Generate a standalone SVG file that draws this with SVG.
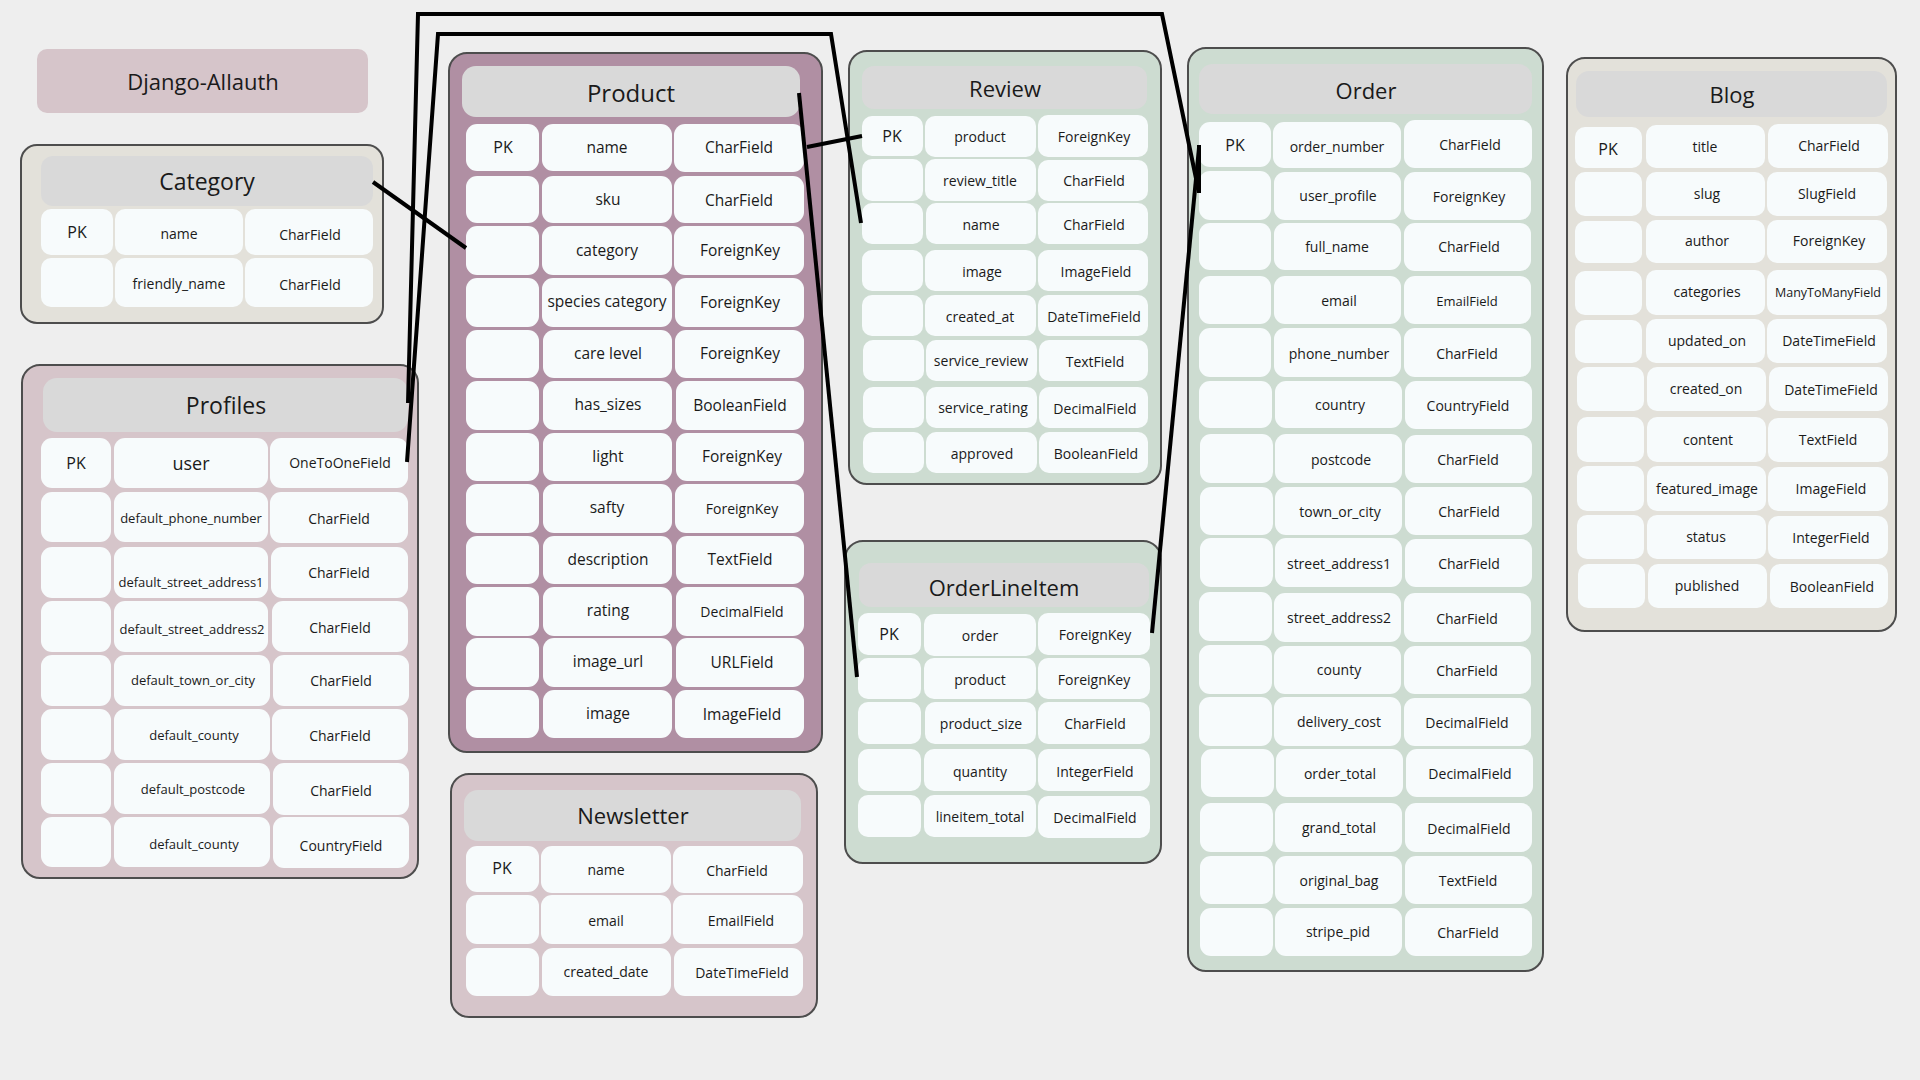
<svg xmlns="http://www.w3.org/2000/svg" width="1920" height="1080" viewBox="0 0 1920 1080">
<defs>
<style>
.box{stroke:#4d4d4d;stroke-width:2}
.pink{fill:#d6c5ca}
.mauve{fill:#b08fa3}
.sage{fill:#cddcd1}
.beige{fill:#e3e1da}
.hdr{fill:#d9d9d9}
.c{fill:#f7fbfc}
text{font-family:"Open Sans","Liberation Sans",sans-serif;fill:#1a1a1a;text-anchor:middle;dominant-baseline:central}
.h{font-size:22px}
.pk{font-size:16px}
.f{font-size:14px}
.s{font-size:13px}
.m{font-size:15.5px}
.conn{fill:none;stroke:#000;stroke-width:4;stroke-linejoin:miter}
</style>
</defs>
<rect x="0" y="0" width="1920" height="1080" fill="#eeeeee"/>

<g id="django-allauth">
<rect x="37" y="49" width="331" height="64" rx="10" class="pink"/>
<text x="203" y="81" class="h">Django-Allauth</text>
</g>

<g id="category">
<rect x="21" y="145" width="362" height="178" rx="16" class="box beige"/>
<rect x="41" y="156" width="332" height="50" rx="12" class="hdr"/>
<text x="207" y="181" style="font-size:23px">Category</text>
<rect x="41" y="209" width="72" height="46" rx="10" class="c"/>
<rect x="115" y="209" width="128" height="46" rx="10" class="c"/>
<rect x="245" y="209" width="128" height="46" rx="10" class="c"/>
<rect x="41" y="258" width="72" height="49" rx="10" class="c"/>
<rect x="115" y="258" width="128" height="49" rx="10" class="c"/>
<rect x="245" y="258" width="128" height="49" rx="10" class="c"/>
<text x="77" y="232" class="pk">PK</text>
<text x="179" y="233" class="f">name</text>
<text x="310" y="234" class="f">CharField</text>
<text x="179" y="283" class="f">friendly_name</text>
<text x="310" y="284" class="f">CharField</text>
</g>

<g id="profiles">
<rect x="22" y="365" width="396" height="513" rx="18" class="box pink"/>
<rect x="43" y="378" width="365" height="54" rx="14" class="hdr"/>
<text x="226" y="405" style="font-size:23px">Profiles</text>
<rect x="41" y="438" width="70" height="50" rx="11" class="c"/><rect x="114" y="438" width="154" height="50" rx="11" class="c"/><rect x="270" y="438" width="138" height="50" rx="11" class="c"/>
<rect x="41" y="492" width="70" height="50" rx="11" class="c"/><rect x="114" y="492" width="154" height="50" rx="11" class="c"/><rect x="270" y="492" width="138" height="51" rx="11" class="c"/>
<rect x="41" y="547" width="70" height="51" rx="11" class="c"/><rect x="114" y="547" width="154" height="51" rx="11" class="c"/><rect x="271" y="547" width="137" height="51" rx="11" class="c"/>
<rect x="41" y="601" width="70" height="51" rx="11" class="c"/><rect x="114" y="601" width="154" height="51" rx="11" class="c"/><rect x="272" y="601" width="136" height="51" rx="11" class="c"/>
<rect x="41" y="655" width="70" height="51" rx="11" class="c"/><rect x="114" y="655" width="156" height="51" rx="11" class="c"/><rect x="273" y="655" width="136" height="51" rx="11" class="c"/>
<rect x="41" y="709" width="70" height="51" rx="11" class="c"/><rect x="114" y="709" width="156" height="51" rx="11" class="c"/><rect x="272" y="709" width="136" height="51" rx="11" class="c"/>
<rect x="41" y="763" width="70" height="51" rx="11" class="c"/><rect x="114" y="763" width="156" height="51" rx="11" class="c"/><rect x="273" y="763" width="136" height="52" rx="11" class="c"/>
<rect x="41" y="817" width="70" height="50" rx="11" class="c"/><rect x="114" y="817" width="156" height="50" rx="11" class="c"/><rect x="273" y="817" width="136" height="51" rx="11" class="c"/>
<text x="76" y="463" class="pk">PK</text>
<text x="191" y="463" style="font-size:18px">user</text>
<text x="340" y="462" class="f">OneToOneField</text>
<text x="191" y="518" class="s">default_phone_number</text>
<text x="339" y="518" class="f">CharField</text>
<text x="191" y="582" class="s">default_street_address1</text>
<text x="339" y="572" class="f">CharField</text>
<text x="192" y="629" class="s">default_street_address2</text>
<text x="340" y="627" class="f">CharField</text>
<text x="193" y="680" class="s">default_town_or_city</text>
<text x="341" y="680" class="f">CharField</text>
<text x="194" y="735" class="s">default_county</text>
<text x="340" y="735" class="f">CharField</text>
<text x="193" y="789" class="s">default_postcode</text>
<text x="341" y="790" class="f">CharField</text>
<text x="194" y="844" class="s">default_county</text>
<text x="341" y="845" class="f">CountryField</text>
</g>

<g id="product">
<rect x="449" y="53" width="373" height="699" rx="18" class="box mauve"/>
<rect x="462" y="66" width="338" height="51" rx="14" class="hdr"/>
<text x="631" y="92" style="font-size:24px">Product</text>
<rect x="466" y="124" width="73" height="47" rx="11" class="c"/><rect x="542" y="124" width="130" height="47" rx="11" class="c"/><rect x="674" y="124" width="130" height="48" rx="11" class="c"/>
<rect x="466" y="176" width="73" height="47" rx="11" class="c"/><rect x="542" y="176" width="130" height="47" rx="11" class="c"/><rect x="674" y="176" width="130" height="47" rx="11" class="c"/>
<rect x="466" y="226" width="73" height="49" rx="11" class="c"/><rect x="542" y="226" width="130" height="49" rx="11" class="c"/><rect x="674" y="226" width="130" height="49" rx="11" class="c"/>
<rect x="466" y="278" width="73" height="49" rx="11" class="c"/><rect x="542" y="278" width="130" height="49" rx="11" class="c"/><rect x="675" y="278" width="129" height="49" rx="11" class="c"/>
<rect x="466" y="330" width="73" height="48" rx="11" class="c"/><rect x="543" y="330" width="129" height="48" rx="11" class="c"/><rect x="675" y="330" width="129" height="48" rx="11" class="c"/>
<rect x="466" y="381" width="73" height="49" rx="11" class="c"/><rect x="543" y="381" width="129" height="49" rx="11" class="c"/><rect x="676" y="381" width="128" height="49" rx="11" class="c"/>
<rect x="466" y="433" width="73" height="48" rx="11" class="c"/><rect x="543" y="433" width="129" height="48" rx="11" class="c"/><rect x="676" y="433" width="128" height="48" rx="11" class="c"/>
<rect x="466" y="484" width="73" height="49" rx="11" class="c"/><rect x="543" y="484" width="129" height="49" rx="11" class="c"/><rect x="675" y="484" width="129" height="49" rx="11" class="c"/>
<rect x="466" y="536" width="73" height="48" rx="11" class="c"/><rect x="543" y="536" width="129" height="48" rx="11" class="c"/><rect x="676" y="536" width="128" height="48" rx="11" class="c"/>
<rect x="466" y="587" width="73" height="49" rx="11" class="c"/><rect x="543" y="587" width="129" height="49" rx="11" class="c"/><rect x="676" y="587" width="128" height="49" rx="11" class="c"/>
<rect x="466" y="638" width="73" height="49" rx="11" class="c"/><rect x="543" y="638" width="129" height="49" rx="11" class="c"/><rect x="676" y="638" width="128" height="49" rx="11" class="c"/>
<rect x="466" y="690" width="73" height="48" rx="11" class="c"/><rect x="543" y="690" width="129" height="48" rx="11" class="c"/><rect x="675" y="690" width="129" height="48" rx="11" class="c"/>
<text x="503" y="147" class="pk">PK</text>
<text x="607" y="147" class="m">name</text><text x="739" y="147" class="m">CharField</text>
<text x="608" y="199" class="m">sku</text><text x="739" y="200" class="m">CharField</text>
<text x="607" y="250" class="m">category</text><text x="740" y="250" class="m">ForeignKey</text>
<text x="607" y="301" class="m">species category</text><text x="740" y="302" class="m">ForeignKey</text>
<text x="608" y="353" class="m">care level</text><text x="740" y="353" class="m">ForeignKey</text>
<text x="608" y="404" class="m">has_sizes</text><text x="740" y="405" class="m">BooleanField</text>
<text x="608" y="456" class="m">light</text><text x="742" y="456" class="m">ForeignKey</text>
<text x="607" y="507" class="m">safty</text><text x="742" y="508" class="f">ForeignKey</text>
<text x="608" y="559" class="m">description</text><text x="740" y="559" class="m">TextField</text>
<text x="608" y="610" class="m">rating</text><text x="742" y="611" class="f">DecimalField</text>
<text x="608" y="661" class="m">image_url</text><text x="742" y="662" class="m">URLField</text>
<text x="608" y="713" class="m">image</text><text x="742" y="714" class="m">ImageField</text>
</g>

<g id="newsletter">
<rect x="451" y="774" width="366" height="243" rx="18" class="box pink"/>
<rect x="464" y="790" width="337" height="51" rx="14" class="hdr"/>
<text x="633" y="815" class="h">Newsletter</text>
<rect x="466" y="846" width="73" height="46" rx="11" class="c"/><rect x="541" y="846" width="130" height="47" rx="11" class="c"/><rect x="673" y="846" width="130" height="47" rx="11" class="c"/>
<rect x="466" y="895" width="73" height="49" rx="11" class="c"/><rect x="541" y="895" width="130" height="49" rx="11" class="c"/><rect x="673" y="895" width="130" height="49" rx="11" class="c"/>
<rect x="466" y="948" width="73" height="48" rx="11" class="c"/><rect x="542" y="948" width="129" height="48" rx="11" class="c"/><rect x="674" y="948" width="129" height="48" rx="11" class="c"/>
<text x="502" y="868" class="pk">PK</text>
<text x="606" y="869" class="f">name</text><text x="737" y="870" class="f">CharField</text>
<text x="606" y="920" class="f">email</text><text x="741" y="920" class="f">EmailField</text>
<text x="606" y="971" class="f">created_date</text><text x="742" y="972" class="f">DateTimeField</text>
</g>

<g id="review">
<rect x="849" y="51" width="312" height="433" rx="18" class="box sage"/>
<rect x="862" y="66" width="285" height="43" rx="12" class="hdr"/>
<text x="1005" y="88" class="h">Review</text>
<rect x="862" y="116" width="61" height="40" rx="10" class="c"/><rect x="925" y="116" width="111" height="41" rx="10" class="c"/><rect x="1038" y="115" width="110" height="42" rx="10" class="c"/>
<rect x="862" y="159" width="61" height="42" rx="10" class="c"/><rect x="925" y="159" width="111" height="42" rx="10" class="c"/><rect x="1038" y="160" width="110" height="41" rx="10" class="c"/>
<rect x="862" y="203" width="61" height="41" rx="10" class="c"/><rect x="926" y="203" width="110" height="41" rx="10" class="c"/><rect x="1038" y="203" width="110" height="41" rx="10" class="c"/>
<rect x="862" y="250" width="61" height="41" rx="10" class="c"/><rect x="925" y="250" width="111" height="41" rx="10" class="c"/><rect x="1038" y="250" width="110" height="41" rx="10" class="c"/>
<rect x="862" y="295" width="61" height="41" rx="10" class="c"/><rect x="925" y="295" width="111" height="41" rx="10" class="c"/><rect x="1038" y="295" width="110" height="41" rx="10" class="c"/>
<rect x="863" y="340" width="61" height="41" rx="10" class="c"/><rect x="926" y="340" width="111" height="41" rx="10" class="c"/><rect x="1039" y="340" width="109" height="41" rx="10" class="c"/>
<rect x="863" y="387" width="61" height="41" rx="10" class="c"/><rect x="926" y="387" width="111" height="41" rx="10" class="c"/><rect x="1039" y="387" width="109" height="41" rx="10" class="c"/>
<rect x="863" y="432" width="61" height="41" rx="10" class="c"/><rect x="926" y="432" width="111" height="41" rx="10" class="c"/><rect x="1039" y="432" width="109" height="41" rx="10" class="c"/>
<text x="892" y="136" class="pk">PK</text>
<text x="980" y="136" class="f">product</text><text x="1094" y="136" class="f">ForeignKey</text>
<text x="980" y="180" class="f">review_title</text><text x="1094" y="180" class="f">CharField</text>
<text x="981" y="224" class="f">name</text><text x="1094" y="224" class="f">CharField</text>
<text x="982" y="271" class="f">image</text><text x="1096" y="271" class="f">ImageField</text>
<text x="980" y="316" class="f">created_at</text><text x="1094" y="316" class="f">DateTimeField</text>
<text x="981" y="360" class="f">service_review</text><text x="1095" y="361" class="f">TextField</text>
<text x="983" y="407" class="f">service_rating</text><text x="1095" y="408" class="f">DecimalField</text>
<text x="982" y="453" class="f">approved</text><text x="1096" y="453" class="f">BooleanField</text>
</g>

<g id="orderlineitem">
<rect x="845" y="541" width="316" height="322" rx="18" class="box sage"/>
<rect x="859" y="563" width="290" height="44" rx="12" class="hdr"/>
<text x="1004" y="587" class="h">OrderLineItem</text>
<rect x="858" y="613" width="63" height="42" rx="10" class="c"/><rect x="924" y="614" width="112" height="42" rx="10" class="c"/><rect x="1038" y="613" width="112" height="42" rx="10" class="c"/>
<rect x="858" y="658" width="63" height="41" rx="10" class="c"/><rect x="924" y="658" width="112" height="41" rx="10" class="c"/><rect x="1038" y="658" width="112" height="41" rx="10" class="c"/>
<rect x="858" y="702" width="63" height="42" rx="10" class="c"/><rect x="925" y="702" width="111" height="42" rx="10" class="c"/><rect x="1038" y="702" width="112" height="42" rx="10" class="c"/>
<rect x="858" y="749" width="63" height="42" rx="10" class="c"/><rect x="924" y="749" width="112" height="42" rx="10" class="c"/><rect x="1038" y="749" width="112" height="42" rx="10" class="c"/>
<rect x="858" y="795" width="63" height="42" rx="10" class="c"/><rect x="924" y="795" width="112" height="42" rx="10" class="c"/><rect x="1038" y="796" width="112" height="42" rx="10" class="c"/>
<text x="889" y="634" class="pk">PK</text>
<text x="980" y="635" class="f">order</text><text x="1095" y="634" class="f">ForeignKey</text>
<text x="980" y="679" class="f">product</text><text x="1094" y="679" class="f">ForeignKey</text>
<text x="981" y="723" class="f">product_size</text><text x="1095" y="723" class="f">CharField</text>
<text x="980" y="771" class="f">quantity</text><text x="1095" y="771" class="f">IntegerField</text>
<text x="980" y="816" class="f">lineitem_total</text><text x="1095" y="817" class="f">DecimalField</text>
</g>

<g id="order">
<rect x="1188" y="48" width="355" height="923" rx="18" class="box sage"/>
<rect x="1199" y="64" width="333" height="50" rx="14" class="hdr"/>
<text x="1366" y="90" class="h">Order</text>
<rect x="1199" y="122" width="72" height="45" rx="11" class="c"/><rect x="1273" y="122" width="128" height="46" rx="11" class="c"/><rect x="1404" y="120" width="128" height="48" rx="11" class="c"/>
<rect x="1199" y="171" width="72" height="49" rx="11" class="c"/><rect x="1274" y="172" width="127" height="48" rx="11" class="c"/><rect x="1404" y="172" width="127" height="48" rx="11" class="c"/>
<rect x="1199" y="223" width="72" height="47" rx="11" class="c"/><rect x="1274" y="223" width="127" height="47" rx="11" class="c"/><rect x="1404" y="223" width="127" height="48" rx="11" class="c"/>
<rect x="1199" y="276" width="72" height="48" rx="11" class="c"/><rect x="1274" y="276" width="127" height="48" rx="11" class="c"/><rect x="1404" y="276" width="127" height="48" rx="11" class="c"/>
<rect x="1199" y="328" width="72" height="49" rx="11" class="c"/><rect x="1274" y="328" width="127" height="49" rx="11" class="c"/><rect x="1404" y="328" width="127" height="49" rx="11" class="c"/>
<rect x="1199" y="381" width="73" height="47" rx="11" class="c"/><rect x="1275" y="381" width="127" height="47" rx="11" class="c"/><rect x="1405" y="381" width="127" height="48" rx="11" class="c"/>
<rect x="1200" y="434" width="73" height="49" rx="11" class="c"/><rect x="1275" y="434" width="127" height="49" rx="11" class="c"/><rect x="1405" y="435" width="127" height="48" rx="11" class="c"/>
<rect x="1200" y="487" width="73" height="48" rx="11" class="c"/><rect x="1275" y="487" width="127" height="48" rx="11" class="c"/><rect x="1405" y="487" width="127" height="48" rx="11" class="c"/>
<rect x="1200" y="538" width="73" height="49" rx="11" class="c"/><rect x="1275" y="538" width="127" height="49" rx="11" class="c"/><rect x="1405" y="539" width="127" height="48" rx="11" class="c"/>
<rect x="1199" y="592" width="73" height="49" rx="11" class="c"/><rect x="1274" y="593" width="127" height="49" rx="11" class="c"/><rect x="1404" y="593" width="127" height="49" rx="11" class="c"/>
<rect x="1199" y="645" width="73" height="49" rx="11" class="c"/><rect x="1274" y="646" width="127" height="48" rx="11" class="c"/><rect x="1404" y="646" width="127" height="48" rx="11" class="c"/>
<rect x="1199" y="697" width="73" height="49" rx="11" class="c"/><rect x="1274" y="697" width="127" height="49" rx="11" class="c"/><rect x="1404" y="698" width="127" height="48" rx="11" class="c"/>
<rect x="1201" y="749" width="73" height="48" rx="11" class="c"/><rect x="1276" y="749" width="127" height="48" rx="11" class="c"/><rect x="1406" y="749" width="127" height="48" rx="11" class="c"/>
<rect x="1200" y="803" width="73" height="49" rx="11" class="c"/><rect x="1275" y="803" width="127" height="49" rx="11" class="c"/><rect x="1405" y="803" width="127" height="49" rx="11" class="c"/>
<rect x="1200" y="856" width="73" height="48" rx="11" class="c"/><rect x="1275" y="856" width="127" height="48" rx="11" class="c"/><rect x="1405" y="856" width="127" height="48" rx="11" class="c"/>
<rect x="1200" y="908" width="73" height="48" rx="11" class="c"/><rect x="1275" y="908" width="127" height="48" rx="11" class="c"/><rect x="1405" y="908" width="127" height="48" rx="11" class="c"/>
<text x="1235" y="145" class="pk">PK</text>
<text x="1337" y="146" class="f">order_number</text><text x="1470" y="144" class="f">CharField</text>
<text x="1338" y="195" class="f">user_profile</text><text x="1469" y="196" class="f">ForeignKey</text>
<text x="1337" y="246" class="f">full_name</text><text x="1469" y="246" class="f">CharField</text>
<text x="1339" y="300" class="f">email</text><text x="1467" y="301" class="s">EmailField</text>
<text x="1339" y="353" class="f">phone_number</text><text x="1467" y="353" class="f">CharField</text>
<text x="1340" y="404" class="f">country</text><text x="1468" y="405" class="f">CountryField</text>
<text x="1341" y="459" class="f">postcode</text><text x="1468" y="459" class="f">CharField</text>
<text x="1340" y="511" class="f">town_or_city</text><text x="1469" y="511" class="f">CharField</text>
<text x="1339" y="563" class="f">street_address1</text><text x="1469" y="563" class="f">CharField</text>
<text x="1339" y="617" class="f">street_address2</text><text x="1467" y="618" class="f">CharField</text>
<text x="1339" y="669" class="f">county</text><text x="1467" y="670" class="f">CharField</text>
<text x="1339" y="721" class="f">delivery_cost</text><text x="1467" y="722" class="f">DecimalField</text>
<text x="1340" y="773" class="f">order_total</text><text x="1470" y="773" class="f">DecimalField</text>
<text x="1339" y="827" class="f">grand_total</text><text x="1469" y="828" class="f">DecimalField</text>
<text x="1339" y="880" class="f">original_bag</text><text x="1468" y="880" class="f">TextField</text>
<text x="1338" y="931" class="f">stripe_pid</text><text x="1468" y="932" class="f">CharField</text>
</g>

<g id="blog">
<rect x="1567" y="58" width="329" height="573" rx="18" class="box beige"/>
<rect x="1576" y="71" width="311" height="46" rx="13" class="hdr"/>
<text x="1732" y="94" class="h">Blog</text>
<rect x="1575" y="127" width="67" height="41" rx="10" class="c"/><rect x="1646" y="125" width="119" height="43" rx="10" class="c"/><rect x="1768" y="124" width="120" height="44" rx="10" class="c"/>
<rect x="1575" y="172" width="67" height="44" rx="10" class="c"/><rect x="1646" y="172" width="119" height="44" rx="10" class="c"/><rect x="1767" y="172" width="120" height="44" rx="10" class="c"/>
<rect x="1575" y="221" width="67" height="42" rx="10" class="c"/><rect x="1646" y="220" width="119" height="43" rx="10" class="c"/><rect x="1767" y="220" width="120" height="43" rx="10" class="c"/>
<rect x="1575" y="271" width="67" height="44" rx="10" class="c"/><rect x="1646" y="270" width="119" height="45" rx="10" class="c"/><rect x="1767" y="270" width="120" height="45" rx="10" class="c"/>
<rect x="1575" y="320" width="67" height="43" rx="10" class="c"/><rect x="1646" y="319" width="119" height="44" rx="10" class="c"/><rect x="1767" y="319" width="120" height="44" rx="10" class="c"/>
<rect x="1577" y="367" width="67" height="44" rx="10" class="c"/><rect x="1647" y="367" width="119" height="44" rx="10" class="c"/><rect x="1769" y="367" width="119" height="44" rx="10" class="c"/>
<rect x="1577" y="417" width="67" height="45" rx="10" class="c"/><rect x="1647" y="417" width="119" height="45" rx="10" class="c"/><rect x="1768" y="418" width="120" height="44" rx="10" class="c"/>
<rect x="1577" y="466" width="67" height="45" rx="10" class="c"/><rect x="1647" y="466" width="119" height="45" rx="10" class="c"/><rect x="1768" y="467" width="120" height="44" rx="10" class="c"/>
<rect x="1577" y="515" width="67" height="44" rx="10" class="c"/><rect x="1647" y="515" width="119" height="44" rx="10" class="c"/><rect x="1768" y="516" width="120" height="43" rx="10" class="c"/>
<rect x="1578" y="564" width="67" height="44" rx="10" class="c"/><rect x="1648" y="564" width="119" height="44" rx="10" class="c"/><rect x="1770" y="564" width="118" height="44" rx="10" class="c"/>
<text x="1608" y="149" class="pk">PK</text>
<text x="1705" y="146" class="f">title</text><text x="1829" y="145" class="f">CharField</text>
<text x="1707" y="193" class="f">slug</text><text x="1827" y="193" class="f">SlugField</text>
<text x="1707" y="240" class="f">author</text><text x="1829" y="240" class="f">ForeignKey</text>
<text x="1707" y="291" class="f">categories</text><text x="1828" y="292" style="font-size:12.5px">ManyToManyField</text>
<text x="1707" y="340" class="f">updated_on</text><text x="1829" y="340" class="f">DateTimeField</text>
<text x="1706" y="388" class="f">created_on</text><text x="1831" y="389" class="f">DateTimeField</text>
<text x="1708" y="439" class="f">content</text><text x="1828" y="439" class="f">TextField</text>
<text x="1707" y="488" class="f">featured_image</text><text x="1831" y="488" class="f">ImageField</text>
<text x="1706" y="536" class="f">status</text><text x="1831" y="537" class="f">IntegerField</text>
<text x="1707" y="585" class="f">published</text><text x="1832" y="586" class="f">BooleanField</text>
</g>

<g id="connectors">
<path class="conn" d="M373,182 L466,248"/>
<path class="conn" d="M408,403 L418,14 L1162,14 L1198,188"/>
<path class="conn" d="M1199,145 L1199,193"/>
<path class="conn" d="M1199,148 L1152,633"/>
<path class="conn" d="M407,462 L438,34 L831,34 L861,223"/>
<path class="conn" d="M799,93 L857,677"/>
<path class="conn" d="M807,147 L862,136"/>
</g>
</svg>
